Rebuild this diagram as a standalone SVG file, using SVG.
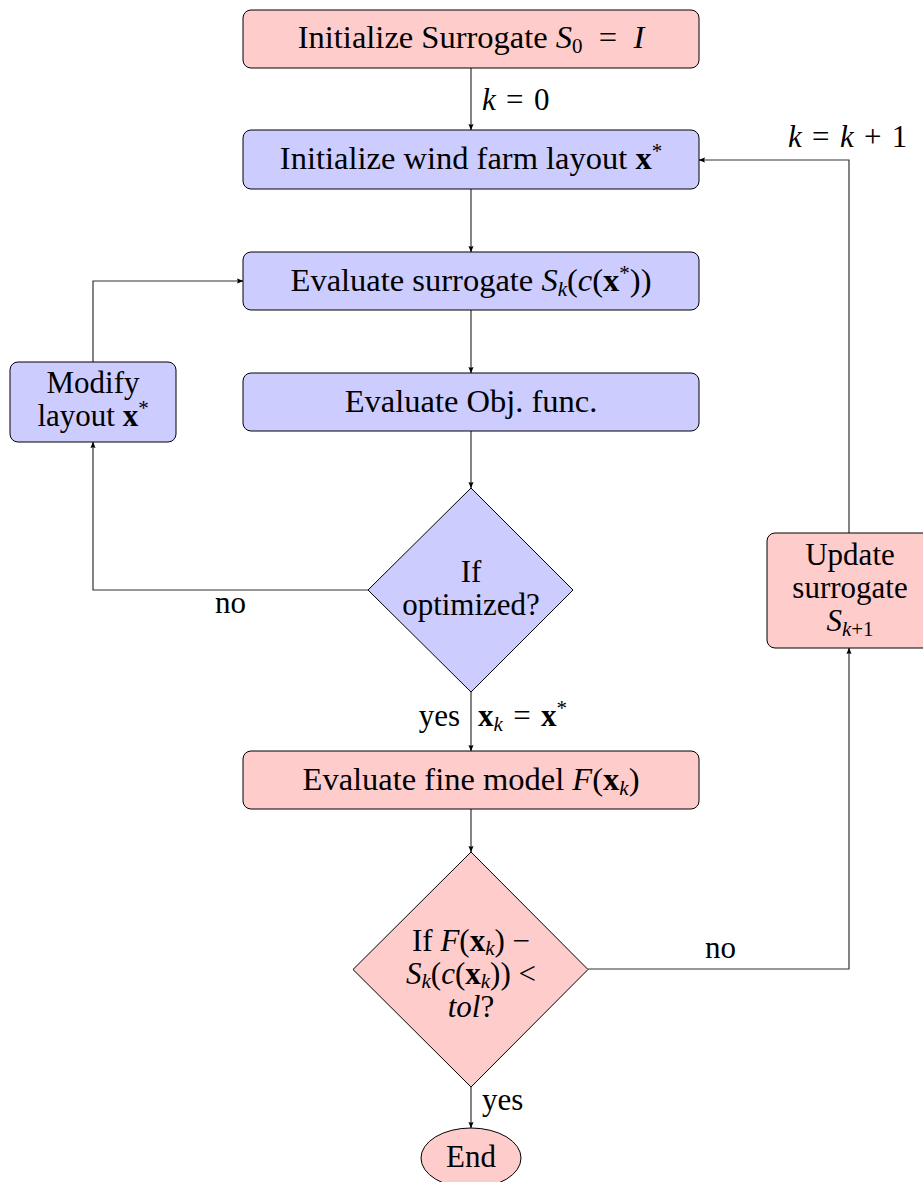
<svg xmlns="http://www.w3.org/2000/svg" width="923" height="1182" viewBox="0 0 923 1182" font-family="Liberation Serif" font-size="31">
<style>
  .c { text-anchor: middle; }
  .e { text-anchor: end; }
  .big { font-size: 32.5px; }
  .it { font-style: italic; }
  .bf { font-weight: bold; }
  .red { fill: #ffcccc; stroke: #000; stroke-width: 1; }
  .blue { fill: #ccccff; stroke: #000; stroke-width: 1; }
  .conn { fill: none; stroke: #333; stroke-width: 1.2; marker-end: url(#arr); }
  .sub { font-size: 21px; }
</style>
<defs>
  <marker id="arr" viewBox="0 0 10 8" refX="9.5" refY="4" markerWidth="6.5" markerHeight="5.2" orient="auto" markerUnits="userSpaceOnUse">
    <path d="M0,0 Q3,4 0,8 L10,4 Z" fill="#000"/>
  </marker>
</defs>

<g id="connectors">
  <path class="conn" d="M471,68 V130"/>
  <path class="conn" d="M471,189 V252"/>
  <path class="conn" d="M471,310 V373"/>
  <path class="conn" d="M471,431 V488"/>
  <path class="conn" d="M471,692 V751"/>
  <path class="conn" d="M471,809 V852"/>
  <path class="conn" d="M471,1087 V1128"/>
  <path class="conn" d="M368,590 H93 V442"/>
  <path class="conn" d="M93,362 V281 H243"/>
  <path class="conn" d="M588,969 H849 V648"/>
  <path class="conn" d="M849,533 V160 H699"/>
  <text x="482" y="110"><tspan class="it">k</tspan>&#8202; = &#8202;0</text>
  <text x="788" y="147"><tspan class="it">k</tspan>&#8202; = &#8202;<tspan class="it">k</tspan>&#8202; + &#8202;1</text>
  <text x="215" y="613">no</text>
  <text x="460" y="726" class="e">yes</text>
  <text x="478" y="726"><tspan class="bf">x</tspan><tspan class="sub it" dy="5">k</tspan><tspan dy="-5">&#8202; = &#8202;</tspan><tspan class="bf">x</tspan><tspan class="sub" dy="-11">*</tspan></text>
  <text x="705" y="958">no</text>
  <text x="482" y="1110">yes</text>
</g>

<g id="init-surrogate">
  <rect class="red" x="243" y="10" width="456" height="58" rx="8"/>
  <text x="471" y="48" class="c big">Initialize Surrogate <tspan class="it">S</tspan><tspan class="sub" dy="5">0</tspan><tspan dy="-5">&#8194;=&#8194;</tspan><tspan class="it">I</tspan></text>
</g>

<g id="init-layout">
  <rect class="blue" x="243" y="130" width="456" height="59" rx="8"/>
  <text x="471" y="169" class="c big">Initialize wind farm layout <tspan class="bf">x</tspan><tspan class="sub" dy="-11">*</tspan></text>
</g>

<g id="eval-surrogate">
  <rect class="blue" x="243" y="252" width="456" height="58" rx="8"/>
  <text x="471" y="291" class="c big">Evaluate surrogate <tspan class="it">S</tspan><tspan class="sub it" dy="5">k</tspan><tspan dy="-5">(</tspan><tspan class="it">c</tspan>(<tspan class="bf">x</tspan><tspan class="sub" dy="-11">*</tspan><tspan dy="11">))</tspan></text>
</g>

<g id="eval-obj">
  <rect class="blue" x="243" y="373" width="456" height="58" rx="8"/>
  <text x="471" y="412" class="c big">Evaluate Obj. func.</text>
</g>

<g id="modify-layout">
  <rect class="blue" x="10" y="362" width="166" height="80" rx="8"/>
  <text x="93" y="393" class="c">Modify</text>
  <text x="93" y="426" class="c">layout <tspan class="bf">x</tspan><tspan class="sub" dy="-11">*</tspan></text>
</g>

<g id="if-optimized">
  <polygon class="blue" points="471,488 573,590 471,692 368,590"/>
  <text x="471" y="582" class="c">If</text>
  <text x="471" y="615" class="c">optimized?</text>
</g>

<g id="eval-fine">
  <rect class="red" x="243" y="751" width="456" height="58" rx="8"/>
  <text x="471" y="790" class="c big">Evaluate fine model <tspan class="it">F</tspan>(<tspan class="bf">x</tspan><tspan class="sub it" dy="5">k</tspan><tspan dy="-5">)</tspan></text>
</g>

<g id="if-tol">
  <polygon class="red" points="471,852 588,969.5 471,1087 353,969.5"/>
  <text x="471" y="951" class="c">If <tspan class="it">F</tspan>(<tspan class="bf">x</tspan><tspan class="sub it" dy="4">k</tspan><tspan dy="-4">) −</tspan></text>
  <text x="471" y="984" class="c"><tspan class="it">S</tspan><tspan class="sub it" dy="4">k</tspan><tspan dy="-4">(</tspan><tspan class="it">c</tspan>(<tspan class="bf">x</tspan><tspan class="sub it" dy="4">k</tspan><tspan dy="-4">)) &lt;</tspan></text>
  <text x="471" y="1017" class="c"><tspan class="it">tol</tspan>?</text>
</g>

<g id="update-surrogate">
  <rect class="red" x="767" y="533" width="166" height="115" rx="8"/>
  <text x="850" y="565" class="c">Update</text>
  <text x="850" y="598" class="c">surrogate</text>
  <text x="850" y="631" class="c"><tspan class="it">S</tspan><tspan class="sub" dy="5"><tspan class="it">k</tspan>+1</tspan></text>
</g>

<g id="end">
  <ellipse class="red" cx="471" cy="1158" rx="50" ry="30"/>
  <text x="471" y="1167" class="c">End</text>
</g>
</svg>
